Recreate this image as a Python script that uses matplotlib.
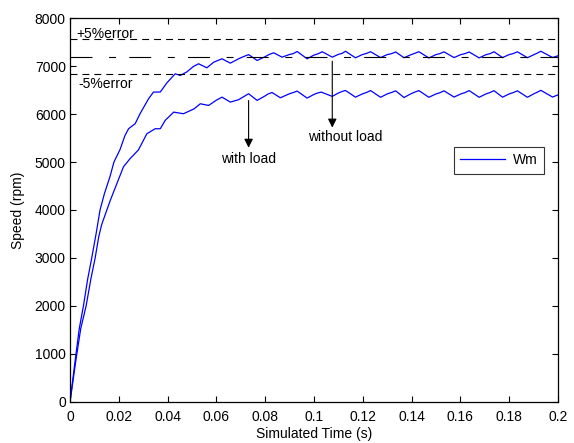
import matplotlib
matplotlib.use("Agg")
import matplotlib.pyplot as plt
from matplotlib.ticker import FormatStrFormatter

plt.rcParams['font.family'] = ['Liberation Sans', 'DejaVu Sans']
plt.rcParams['lines.scale_dashes'] = False

# speed without load (upper trace)
t_noload = [0.0, 0.0022, 0.0038, 0.0055, 0.0072, 0.0089, 0.0107, 0.0123, 0.0141, 0.0164,
            0.0180, 0.0205, 0.0225, 0.0240, 0.0267, 0.0287, 0.0322, 0.0342, 0.0370, 0.0397,
            0.0431, 0.0452, 0.0479, 0.0505,
            0.0527, 0.0561, 0.0589, 0.0623, 0.0657, 0.0691, 0.0712, 0.0732, 0.0767, 0.0801,
            0.0815, 0.0835, 0.0869, 0.0898, 0.0915, 0.0931, 0.0972, 0.1000, 0.1018, 0.1034,
            0.1075, 0.1100, 0.1115, 0.1129, 0.1170, 0.1198, 0.1215, 0.1232, 0.1273, 0.1300,
            0.1318, 0.1335, 0.1369, 0.1396, 0.1412, 0.1430, 0.1471, 0.1500, 0.1516, 0.1533,
            0.1574, 0.1602, 0.1620, 0.1636, 0.1677, 0.1705, 0.1722, 0.1738, 0.1773, 0.1800,
            0.1817, 0.1834, 0.1875, 0.1902, 0.1915, 0.1930, 0.1978, 0.2000]
w_noload = [0, 900, 1529, 2000, 2550, 3000, 3508, 4000, 4341, 4700,
            5000, 5260, 5550, 5694, 5799, 6007, 6320, 6458, 6460, 6650,
            6840, 6805, 6880, 6990,
            7049, 6965, 7082, 7153, 7062, 7153, 7200, 7240, 7118, 7200,
            7240, 7278, 7187, 7240, 7260, 7305, 7153, 7230, 7260, 7300,
            7187, 7245, 7265, 7310, 7174, 7240, 7265, 7300, 7178, 7240,
            7260, 7295, 7175, 7235, 7265, 7300, 7170, 7240, 7260, 7298,
            7178, 7240, 7262, 7295, 7172, 7238, 7260, 7300, 7178, 7240,
            7262, 7298, 7175, 7240, 7270, 7310, 7180, 7215]

# speed with load (lower trace)
t_load = [0.0, 0.0025, 0.0044, 0.0066, 0.0085, 0.0103, 0.0118, 0.0130, 0.0144, 0.0165,
          0.0192, 0.0219, 0.0246, 0.0280, 0.0315, 0.0349, 0.0370, 0.0390, 0.0425, 0.0465,
          0.0509, 0.0534,
          0.0568, 0.0600, 0.0623, 0.0657, 0.0691, 0.0732, 0.0767, 0.0800, 0.0812, 0.0828,
          0.0862, 0.0898, 0.0915, 0.0931, 0.0972, 0.1000, 0.1015, 0.1030, 0.1075, 0.1100,
          0.1115, 0.1129, 0.1170, 0.1198, 0.1215, 0.1232, 0.1273, 0.1300, 0.1318, 0.1335,
          0.1369, 0.1396, 0.1412, 0.1430, 0.1471, 0.1500, 0.1516, 0.1533, 0.1574, 0.1602,
          0.1620, 0.1636, 0.1677, 0.1705, 0.1722, 0.1738, 0.1773, 0.1800, 0.1817, 0.1834,
          0.1875, 0.1902, 0.1915, 0.1930, 0.1978, 0.2000]
w_load = [0, 900, 1529, 2000, 2550, 3000, 3450, 3700, 3900, 4200,
          4550, 4900, 5070, 5250, 5590, 5694, 5694, 5868, 6041, 6007,
          6111, 6215,
          6180, 6290, 6353, 6250, 6300, 6424, 6285, 6380, 6420, 6450,
          6340, 6420, 6450, 6479, 6333, 6410, 6440, 6458, 6368, 6440,
          6470, 6493, 6353, 6420, 6450, 6490, 6350, 6420, 6450, 6485,
          6345, 6420, 6455, 6490, 6350, 6420, 6445, 6485, 6355, 6420,
          6450, 6490, 6350, 6420, 6450, 6488, 6352, 6420, 6448, 6485,
          6350, 6425, 6455, 6495, 6355, 6400]

w_ref = 7200
w_plus = 7560
w_minus = 6840
x_ticks = [0, 0.02, 0.04, 0.06, 0.08, 0.1, 0.12, 0.14, 0.16, 0.18, 0.2]
y_ticks = [0, 1000, 2000, 3000, 4000, 5000, 6000, 7000, 8000]

FS = 10
fig = plt.figure(figsize=(5.74, 4.43), dpi=100)
ax = fig.add_axes([0.122, 0.093, 0.850, 0.866])

ax.plot(t_noload, w_noload, color='#0000ff', lw=0.9, label='Wm')
ax.plot(t_load, w_load, color='#0000ff', lw=0.9)

ax.axhline(w_plus, color='k', lw=0.8, dashes=(5, 3.6))
ax.axhline(w_minus, color='k', lw=0.8, dashes=(5, 3.6))
ax.axhline(w_ref, color='k', lw=0.8, dashes=(15.8, 12, 5, 9.5))

ax.text(0.0027, 7680, '+5%error', fontsize=FS, va='center', ha='left')
ax.text(0.0033, 6630, '-5%error', fontsize=FS, va='center', ha='left')

arr = dict(arrowstyle='-|>', color='k', lw=0.8, mutation_scale=13)
ax.annotate('', xy=(0.0732, 5240), xytext=(0.0732, 6340), arrowprops=arr)
ax.text(0.0732, 5060, 'with load', fontsize=FS, ha='center', va='center')
ax.annotate('', xy=(0.1075, 5660), xytext=(0.1075, 7160), arrowprops=arr)
ax.text(0.1127, 5530, 'without load', fontsize=FS, ha='center', va='center')

ax.set_xlim(0, 0.2)
ax.set_ylim(0, 8000)
ax.set_xticks(x_ticks)
ax.set_yticks(y_ticks)
ax.xaxis.set_major_formatter(FormatStrFormatter('%g'))
ax.tick_params(direction='in', top=True, right=True, length=4, width=0.8, labelsize=FS)
ax.tick_params(axis='x', pad=6)
ax.tick_params(axis='y', pad=3)
for s in ax.spines.values():
    s.set_linewidth(0.9)

ax.set_xlabel('Simulated Time (s)', fontsize=FS, labelpad=2)
ax.set_ylabel('Speed (rpm)', fontsize=FS, labelpad=7)

leg = ax.legend(loc='upper left', bbox_to_anchor=(0.787, 0.664), fontsize=FS, frameon=True,
                fancybox=False, edgecolor='k', handlelength=3.2, borderpad=0.45,
                handletextpad=0.6, borderaxespad=0)
leg.get_frame().set_linewidth(0.8)

fig.savefig('out.png', dpi=100)
